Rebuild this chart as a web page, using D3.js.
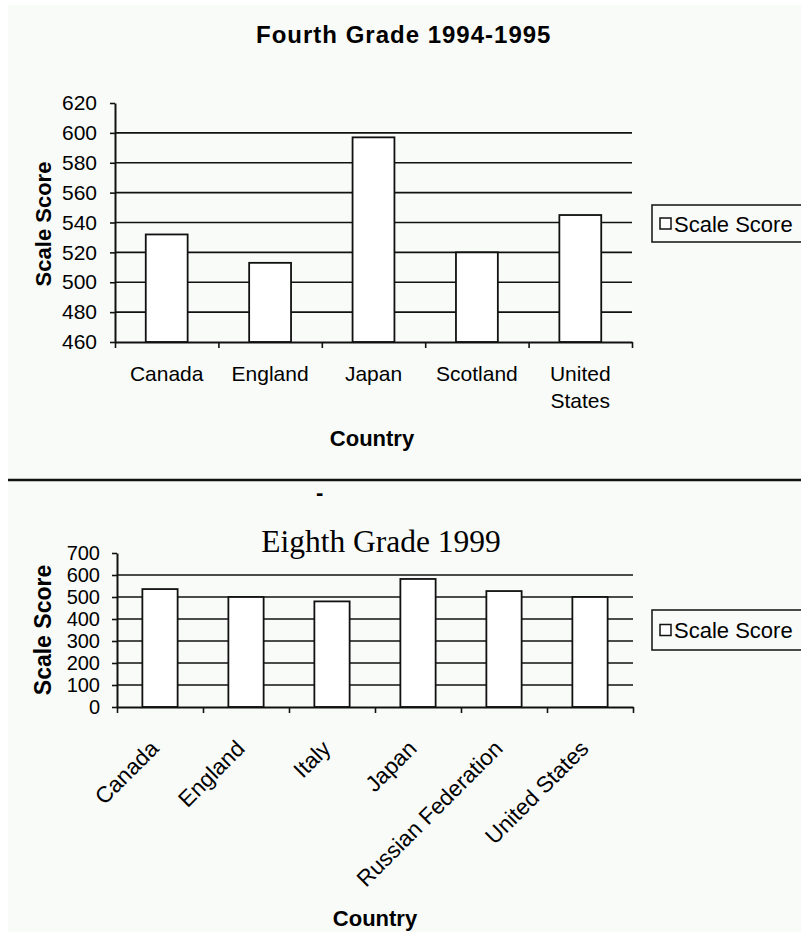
<!DOCTYPE html>
<html>
<head>
<meta charset="utf-8">
<script src="https://cdn.jsdelivr.net/npm/d3@7"></script>
<style>
  html, body { margin: 0; padding: 0; background: #ffffff; }
  svg { display: block; }
  text { font-family: "Liberation Sans", Arial, Helvetica, sans-serif; fill: #000; }
</style>
</head>
<body>
<svg id="chart" width="801" height="932"></svg>
<script>
// Fourth grade scores (1994-1995)
const countries4 = ["Canada", "England", "Japan", "Scotland", "United States"];
const scores4 = [532, 513, 597, 520, 545];
const ticks4 = [460, 480, 500, 520, 540, 560, 580, 600, 620];

// Eighth grade scores (1999)
const countries8 = ["Canada", "England", "Italy", "Japan", "Russian Federation", "United States"];
const scores8 = [536, 500, 480, 582, 527, 500];
const ticks8 = [0, 100, 200, 300, 400, 500, 600, 700];

const seriesName = "Scale Score";

const svg = d3.select("#chart");

// page background
svg.append("rect").attr("x", 8).attr("y", 5).attr("width", 793).attr("height", 927)
  .attr("fill", "#f9fbf9");

function drawChart(opts) {
  const g = svg.append("g");
  const n = opts.categories.length;
  const y = d3.scaleLinear().domain([opts.ticks[0], opts.ticks[opts.ticks.length - 1]])
    .range([opts.bottom, opts.top]);
  const band = d3.scaleBand().domain(opts.categories).range([opts.left, opts.right]).padding(0);
  const edges = d3.scaleLinear().domain([0, n]).range([opts.left, opts.right]);
  const barW = band.bandwidth() * opts.barFrac;

  // horizontal gridlines
  g.append("g").selectAll("line")
    .data(opts.ticks.slice(1, -1))
    .join("line")
    .attr("x1", opts.left).attr("x2", opts.right)
    .attr("y1", d => y(d)).attr("y2", d => y(d))
    .attr("stroke", "#111").attr("stroke-width", 1.6);

  // bars
  g.append("g").selectAll("rect")
    .data(opts.values)
    .join("rect")
    .attr("x", (d, i) => band(opts.categories[i]) + (band.bandwidth() - barW) / 2)
    .attr("width", barW)
    .attr("y", d => y(d))
    .attr("height", d => y(opts.ticks[0]) - y(d))
    .attr("fill", "#ffffff").attr("stroke", "#111").attr("stroke-width", 1.8);

  // y axis
  const yAxis = g.append("g").attr("transform", `translate(${opts.left},0)`)
    .call(d3.axisLeft(y).tickValues(opts.ticks).tickSize(5).tickPadding(opts.yPad).tickSizeOuter(0));
  yAxis.select(".domain").attr("stroke", "#111").attr("stroke-width", 2);
  yAxis.selectAll(".tick line").attr("stroke", "#111").attr("stroke-width", 1.6);
  yAxis.selectAll(".tick text")
    .style("font-family", '"Liberation Sans", Arial, sans-serif')
    .style("font-size", opts.yFont + "px").attr("fill", "#000");

  // x axis with tick marks on category boundaries
  const xAxis = g.append("g").attr("transform", `translate(0,${opts.bottom})`)
    .call(d3.axisBottom(edges).tickValues(d3.range(n + 1)).tickFormat("").tickSize(6).tickSizeOuter(0));
  xAxis.select(".domain").attr("stroke", "#111").attr("stroke-width", 2);
  xAxis.selectAll(".tick line").attr("stroke", "#111").attr("stroke-width", 1.6);

  // legend
  const lg = g.append("g");
  lg.append("rect").attr("x", opts.legend.x).attr("y", opts.legend.y)
    .attr("width", 160).attr("height", opts.legend.h)
    .attr("fill", "none").attr("stroke", "#111").attr("stroke-width", 1.5);
  lg.append("rect").attr("x", opts.legend.x + 8).attr("y", opts.legend.y + opts.legend.h / 2 - 5.5)
    .attr("width", 11).attr("height", 11)
    .attr("fill", "#fff").attr("stroke", "#111").attr("stroke-width", 1.5);
  lg.append("text").attr("x", opts.legend.x + 22).attr("y", opts.legend.y + opts.legend.h / 2 + 8)
    .style("font-size", "22px").text(seriesName);

  return { g, band, y };
}

// ---- Fourth grade chart ----
const c1 = drawChart({
  categories: countries4, values: scores4, ticks: ticks4,
  left: 115, right: 632, top: 103, bottom: 342,
  barFrac: 0.405, yPad: 13, yFont: 21,
  legend: { x: 652, y: 205, h: 37 }
});

c1.g.append("text").attr("x", 256).attr("y", 43)
  .style("font-size", "24px").style("font-weight", "bold").style("letter-spacing", "1px")
  .text("Fourth Grade 1994-1995");

c1.g.append("g").selectAll("text")
  .data(countries4)
  .join("text")
  .attr("text-anchor", "middle")
  .style("font-size", "21px")
  .each(function (d) {
    const words = d === "United States" ? ["United", "States"] : [d];
    const t = d3.select(this);
    words.forEach((w, k) => {
      t.append("tspan").attr("x", c1.band(d) + c1.band.bandwidth() / 2)
        .attr("y", 381 + k * 27).text(w);
    });
  });

c1.g.append("text").attr("text-anchor", "middle")
  .attr("transform", "translate(51,224) rotate(-90)")
  .style("font-size", "22px").style("font-weight", "bold")
  .text("Scale Score");

c1.g.append("text").attr("x", 372).attr("y", 446).attr("text-anchor", "middle")
  .style("font-size", "22px").style("font-weight", "bold")
  .text("Country");

// separator rule between the two charts
svg.append("line").attr("x1", 8).attr("x2", 801).attr("y1", 480).attr("y2", 480)
  .attr("stroke", "#111").attr("stroke-width", 2.5);
svg.append("text").attr("x", 316).attr("y", 500)
  .style("font-size", "22px").style("font-weight", "bold").text("-");

// ---- Eighth grade chart ----
const c2 = drawChart({
  categories: countries8, values: scores8, ticks: ticks8,
  left: 117, right: 633, top: 553, bottom: 707,
  barFrac: 0.41, yPad: 12, yFont: 20,
  legend: { x: 652, y: 610, h: 40 }
});

c2.g.append("text").attr("x", 381).attr("y", 552).attr("text-anchor", "middle")
  .style("font-family", '"Liberation Serif", "Times New Roman", serif')
  .style("font-size", "31.5px")
  .text("Eighth Grade 1999");

c2.g.append("g").selectAll("text")
  .data(countries8)
  .join("text")
  .attr("text-anchor", "end")
  .attr("transform", d => `translate(${c2.band(d) + c2.band.bandwidth() / 2},${750}) rotate(-45)`)
  .style("font-size", "22.5px")
  .text(d => d);

c2.g.append("text").attr("text-anchor", "middle")
  .attr("transform", "translate(51,630) rotate(-90)")
  .style("font-size", "23px").style("font-weight", "bold")
  .text("Scale Score");

c2.g.append("text").attr("x", 375).attr("y", 926).attr("text-anchor", "middle")
  .style("font-size", "22px").style("font-weight", "bold")
  .text("Country");
</script>
</body>
</html>
